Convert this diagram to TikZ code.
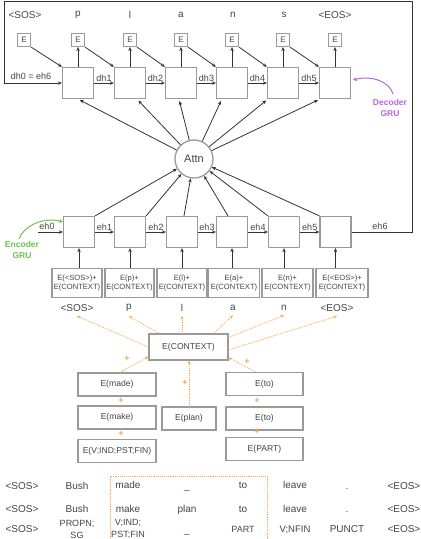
\documentclass[tikz,border=0pt]{standalone}
\usepackage{fontspec}
\setmainfont{Liberation Sans}
\usetikzlibrary{arrows.meta,calc}
\definecolor{boxgray}{HTML}{9A9A9A}
\definecolor{linegray}{HTML}{333333}
\definecolor{txt}{HTML}{444444}
\definecolor{orng}{HTML}{F5A54A}
\definecolor{grn}{HTML}{6CC24A}
\definecolor{prpl}{HTML}{B466E6}
\begin{document}
\begin{tikzpicture}[x=1pt,y=-1pt,
  font=\fontsize{10}{12}\selectfont, text=txt,
  gbox/.style={draw=boxgray, line width=1.3pt, minimum width=31pt, minimum height=31pt, inner sep=0pt},
  ebox/.style={draw=boxgray, line width=1.2pt, minimum size=13pt, inner sep=0pt, font=\fontsize{8}{9}\selectfont},
  embbox/.style={draw=boxgray, line width=1.2pt, minimum height=29pt, inner sep=0pt, align=center, font=\fontsize{7.6}{8.6}\selectfont},
  cbox/.style={draw=boxgray, line width=1.2pt, minimum height=23pt, inner sep=0pt, font=\fontsize{8.6}{10}\selectfont},
  arr/.style={draw=linegray, line width=0.8pt, -{Stealth[length=4pt,width=3.5pt]}},
  oarr/.style={draw=orng, line width=0.8pt, densely dotted, -{Stealth[length=3.5pt,width=3pt]}},
  plus/.style={text=orng, font=\fontsize{9}{9}\selectfont\bfseries, inner sep=0pt},
  lbl/.style={inner sep=1pt, font=\fontsize{9}{10}\selectfont},
  tb/.style={anchor=base, inner sep=0pt},
  tb2/.style={align=center, inner sep=0pt, font=\fontsize{9}{12}\selectfont}
]
\useasboundingbox (0,0) rectangle (421,539);
\clip (0,0) rectangle (421,539);

% top labels
\node (t0) at (25,15) {<SOS>};
\node (t1) at (78,15) {p};
\node (t2) at (130,15) {l};
\node (t3) at (181,15) {a};
\node (t4) at (233,15) {n};
\node (t5) at (284,15) {s};
\node (t6) at (335,15) {<EOS>};

% E boxes
\node[ebox] (e0) at (24,40) {E};
\node[ebox] (e1) at (78,40) {E};
\node[ebox] (e2) at (130,40) {E};
\node[ebox] (e3) at (181,40) {E};
\node[ebox] (e4) at (232,40) {E};
\node[ebox] (e5) at (283,40) {E};
\node[ebox] (e6) at (335,40) {E};

% decoder
\node[gbox] (d1) at (78,83) {};
\node[gbox] (d2) at (130,83) {};
\node[gbox] (d3) at (181,83) {};
\node[gbox] (d4) at (232,83) {};
\node[gbox] (d5) at (283,83) {};
\node[gbox] (d6) at (335,83) {};

\foreach \i/\j in {0/1,1/2,2/3,3/4,4/5,5/6}{
  \draw[arr] (e\i.south east) -- (d\j.north west);
}
\foreach \i in {1,...,6}{
  \draw[arr] (d\i.north) -- (e\i.south);
}
\draw[arr] (d1) -- node[lbl, above]{dh1} (d2);
\draw[arr] (d2) -- node[lbl, above]{dh2} (d3);
\draw[arr] (d3) -- node[lbl, above]{dh3} (d4);
\draw[arr] (d4) -- node[lbl, above]{dh4} (d5);
\draw[arr] (d5) -- node[lbl, above]{dh5} (d6);

% attention
\node[circle, draw=boxgray, line width=1.3pt, minimum size=38pt, inner sep=0pt, font=\fontsize{11}{12}\selectfont] (attn) at (194,159) {Attn};

\draw[arr, shorten >=2pt] (attn) -- (d1.south);
\draw[arr, shorten >=2pt] (attn) -- ([xshift=7pt]d2.south);
\draw[arr, shorten >=2pt] (attn) -- ([xshift=-2pt]d3.south);
\draw[arr, shorten >=2pt] (attn) -- ([xshift=6pt]d4.south west);
\draw[arr, shorten >=2pt] (attn) -- ([xshift=1pt]d5.south west);
\draw[arr, shorten >=2pt] (attn) -- ([xshift=1pt]d6.south west);

% encoder
\node[gbox] (n1) at (79,232) {};
\node[gbox] (n2) at (130,232) {};
\node[gbox] (n3) at (182,232) {};
\node[gbox] (n4) at (232,232) {};
\node[gbox] (n5) at (284,232) {};
\node[gbox] (n6) at (335.5,232) {};

\coordinate (eh0s) at (38,232);
\draw[arr] (eh0s) -- (n1.west);
\node[lbl] (eh0) at (47,226) {eh0};
\draw[arr] (n1) -- node[lbl, above]{eh1} (n2);
\draw[arr] (n2) -- node[lbl, above]{eh2} (n3);
\draw[arr] (n3) -- node[lbl, above]{eh3} (n4);
\draw[arr] (n4) -- node[lbl, above]{eh4} (n5);
\draw[arr] (n5) -- node[lbl, above]{eh5} (n6);

\draw[arr] (n1.north east) -- (attn);
\draw[arr] (n2.north east) -- (attn);
\draw[arr] ([xshift=2pt]n3.north) -- (attn);
\draw[arr] ([xshift=-4pt]n4.north) -- (attn);
\draw[arr] (n5.north west) -- (attn);
\draw[arr] (n6.north west) -- (attn);

% loop frame
\coordinate (cR1) at (412,232);
\coordinate (cR2) at (412,1.5);
\coordinate (cL1) at (4,1.5);
\coordinate (cL2) at (4,83);
\draw[arr] (n6.east) -- (cR1) -- (cR2) -- (cL1) -- (cL2) -- (d1.west);
\node[lbl] (eh6) at (380,226) {eh6};
\node[lbl] (dh0) at (31,76) {dh0 = eh6};

% GRU labels
\node[text=grn, align=center, inner sep=0pt, font=\fontsize{8.5}{10.5}\selectfont\bfseries] (encgru) at (22,250) {Encoder\\GRU};
\coordinate (egs) at (19,239);
\coordinate (ege) at (63,222);
\draw[grn, line width=1pt, -{Stealth[length=4pt,width=4pt]}] (egs) .. controls (22,228) and (42,216) .. (ege);
\node[text=prpl, align=center, inner sep=0pt, font=\fontsize{8.5}{10.5}\selectfont\bfseries] (decgru) at (390,108) {Decoder\\GRU};
\coordinate (dgs) at (393,94);
\coordinate (dge) at (353,80);
\draw[prpl, line width=1pt, -{Stealth[length=4pt,width=4pt]}] (dgs) .. controls (390,82) and (372,75) .. (dge);

% embedding sum boxes
\node[embbox, minimum width=50pt] (m1) at (77,283) {E(<SOS>)+\\E(CONTEXT)};
\node[embbox, minimum width=49pt] (m2) at (129.5,283) {E(p)+\\E(CONTEXT)};
\node[embbox, minimum width=50pt] (m3) at (182,283) {E(l)+\\E(CONTEXT)};
\node[embbox, minimum width=51pt] (m4) at (234,283) {E(a)+\\E(CONTEXT)};
\node[embbox, minimum width=51pt] (m5) at (287.5,283) {E(n)+\\E(CONTEXT)};
\node[embbox, minimum width=52pt] (m6) at (342,283) {E(<EOS>)+\\E(CONTEXT)};
\foreach \i in {1,...,6}{
  \draw[arr] (m\i.north -| n\i.south) -- (n\i.south);
}

% labels below
\node (s0) at (77,308) {<SOS>};
\node (s1) at (129,308) {p};
\node (s2) at (182,308) {l};
\node (s3) at (233,308) {a};
\node (s4) at (284,308) {n};
\node (s5) at (337,308) {<EOS>};

% context
\node[cbox, minimum width=79pt, minimum height=26pt] (ctx) at (188.5,347) {E(CONTEXT)};
\draw[oarr] (ctx.west) -- ([yshift=-1pt]s0.south);
\draw[oarr] ([xshift=11pt]ctx.north west) -- ([yshift=-1pt]s1.south);
\draw[oarr] (ctx.north -| s2.south) -- ([yshift=-1pt]s2.south);
\draw[oarr] ([xshift=-15pt]ctx.north east) -- ([yshift=-1pt]s3.south);
\draw[oarr] ([yshift=-4pt]ctx.north east) -- ([yshift=-1pt]s4.south);
\draw[oarr] ([yshift=-3pt]ctx.east) -- ([yshift=-1pt]s5.south);

\node[cbox, minimum width=78pt] (made) at (117,384.5) {E(made)};
\node[cbox, minimum width=78pt] (make) at (117,417.5) {E(make)};
\node[cbox, minimum width=78pt] (vind) at (117,451) {E(V;IND;PST;FIN)};
\node[cbox, minimum width=54pt] (plan) at (189,418.5) {E(plan)};
\node[cbox, minimum width=77pt] (to1) at (264.5,384) {E(to)};
\node[cbox, minimum width=77pt] (to2) at (264.5,418.5) {E(to)};
\node[cbox, minimum width=77pt] (part) at (264.5,449) {E(PART)};

\draw[oarr] ([xshift=3pt]made.north) -- ([yshift=4pt]ctx.south west);
\draw[oarr] (plan.north) -- (plan.north |- ctx.south);
\draw[oarr] ([xshift=-9pt]to1.north) -- ([yshift=3pt]ctx.south east);

\node[plus] (p1) at (127,359) {+};
\node[plus] (p2) at (185,383) {+};
\node[plus] (p3) at (247,362) {+};
\node[plus] (p4) at (121,401) {+};
\node[plus] (p5) at (121,434) {+};
\node[plus] (p6) at (257,401) {+};
\node[plus] (p7) at (257,432) {+};

% bottom table
\node[draw=orng, densely dotted, line width=0.9pt, minimum width=157pt, minimum height=90pt, anchor=north west, inner sep=0pt] (frame) at (110,476) {};

\node[tb] (r1c0) at (22,489) {<SOS>};
\node[tb] (r1c1) at (77,489) {Bush};
\node[tb] (r1c2) at (128,488) {made};
\node[tb] (r1c3) at (187,489) {\_};
\node[tb] (r1c4) at (243,488) {to};
\node[tb] (r1c5) at (295,488) {leave};
\node[tb] (r1c6) at (347,489) {.};
\node[tb, anchor=base east] (r1c7) at (420.5,489) {<EOS>};

\node[tb] (r2c0) at (22,512) {<SOS>};
\node[tb] (r2c1) at (77,512) {Bush};
\node[tb] (r2c2) at (128,512) {make};
\node[tb] (r2c3) at (187,512) {plan};
\node[tb] (r2c4) at (243,512) {to};
\node[tb] (r2c5) at (295,512) {leave};
\node[tb] (r2c6) at (347,512) {.};
\node[tb, anchor=base east] (r2c7) at (420.5,512) {<EOS>};

\node[tb] (r3c0) at (22,532) {<SOS>};
\node[tb2] (r3c1) at (77,529) {PROPN;\\SG};
\node[tb2] (r3c2) at (128,529) {V;IND;\\PST;FIN};
\node[tb] (r3c3) at (187,533) {\_};
\node[tb, font=\fontsize{9}{10}\selectfont] (r3c4) at (243,532) {PART};
\node[tb, font=\fontsize{9.5}{10}\selectfont] (r3c5) at (295,532) {V;NFIN};
\node[tb] (r3c6) at (347,532) {PUNCT};
\node[tb, anchor=base east] (r3c7) at (420.5,532) {<EOS>};
\end{tikzpicture}
\end{document}
